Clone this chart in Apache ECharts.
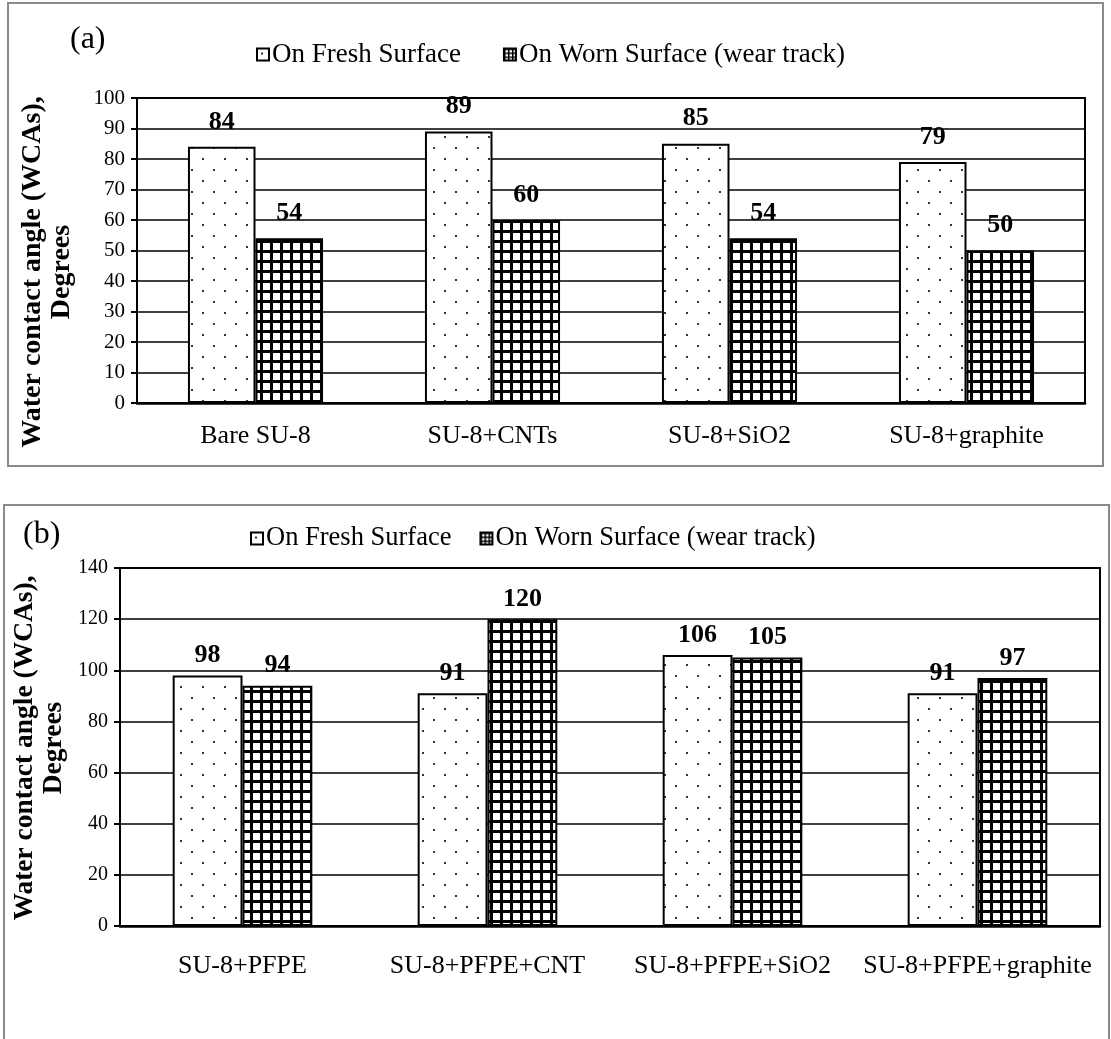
<!DOCTYPE html>
<html>
<head>
<meta charset="utf-8">
<script src="https://cdn.jsdelivr.net/npm/echarts@6/dist/echarts.min.js"></script>
<style>
html,body{margin:0;padding:0;background:#fff;}
#chart{width:1111px;height:1039px;}
</style>
</head>
<body>
<div id="chart"></div>
<script>
// ---- data ----
const seriesNames = ['On Fresh Surface', 'On Worn Surface (wear track)'];
const categoriesA = ['Bare SU-8', 'SU-8+CNTs', 'SU-8+SiO2', 'SU-8+graphite'];
const freshA = [84, 89, 85, 79];
const wornA = [54, 60, 54, 50];
const categoriesB = ['SU-8+PFPE', 'SU-8+PFPE+CNT', 'SU-8+PFPE+SiO2', 'SU-8+PFPE+graphite'];
const freshB = [98, 91, 106, 91];
const wornB = [94, 120, 105, 97];
const yTicksA = {min: 0, max: 100, interval: 10};
const yTicksB = {min: 0, max: 140, interval: 20};

// ---- patterns ----
function dotPattern() {
  const c = document.createElement('canvas');
  c.width = 22; c.height = 22;
  const g = c.getContext('2d');
  g.fillStyle = '#fff'; g.fillRect(0, 0, 22, 22);
  g.fillStyle = '#333';
  g.fillRect(4, 4, 2, 2);
  g.fillRect(15, 15, 2, 2);
  return c;
}
function gridPattern() {
  const c = document.createElement('canvas');
  c.width = 10; c.height = 10;
  const g = c.getContext('2d');
  g.fillStyle = '#fff'; g.fillRect(0, 0, 10, 10);
  g.fillStyle = '#000';
  g.fillRect(0, 0, 3, 10);
  g.fillRect(0, 0, 10, 3);
  return c;
}
function iconGridPattern() {
  const c = document.createElement('canvas');
  c.width = 4; c.height = 4;
  const g = c.getContext('2d');
  g.fillStyle = '#fff'; g.fillRect(0, 0, 4, 4);
  g.fillStyle = '#000';
  g.fillRect(0, 0, 1.5, 4);
  g.fillRect(0, 0, 4, 1.5);
  return c;
}
const freshFill = {image: dotPattern(), repeat: 'repeat'};
const wornFill = {image: gridPattern(), repeat: 'repeat'};
const wornIconFill = {image: iconGridPattern(), repeat: 'repeat'};

const FONT = '"Liberation Serif", "Times New Roman", serif';

function yAxis(gridIndex, t, fs) {
  return {
    type: 'value', gridIndex: gridIndex, min: t.min, max: t.max, interval: t.interval,
    axisLine: {show: true, lineStyle: {color: '#000', width: 2}},
    axisTick: {show: true, length: 6, lineStyle: {color: '#000', width: 2}},
    axisLabel: {color: '#000', fontFamily: FONT, fontSize: fs, margin: 12},
    splitLine: {show: true, lineStyle: {color: '#000', width: 1.6}}
  };
}
function xAxis(gridIndex, cats, margin) {
  return {
    type: 'category', gridIndex: gridIndex, data: cats,
    axisLine: {show: true, lineStyle: {color: '#000', width: 2.5}},
    axisTick: {show: false},
    axisLabel: {color: '#000', fontFamily: FONT, fontSize: 26, margin: margin, interval: 0}
  };
}
function barSeries(name, idx, data, fill, dist) {
  return {
    type: 'bar', name: name, xAxisIndex: idx, yAxisIndex: idx, data: data,
    barGap: '0%', barCategoryGap: '43%',
    itemStyle: {color: fill, borderColor: '#000', borderWidth: 2},
    label: {show: true, position: 'top', distance: dist, color: '#000',
      fontFamily: FONT, fontWeight: 'bold', fontSize: 26},
    emphasis: {disabled: true}
  };
}
function legend(left, top, gap, fs) {
  return {
    left: left, top: top, padding: 0, itemGap: gap, itemWidth: 12, itemHeight: 12,
    icon: 'rect', selectedMode: false,
    textStyle: {color: '#000', fontFamily: FONT, fontSize: fs, padding: [0, 0, 0, -2]},
    data: [
      {name: seriesNames[0], itemStyle: {color: freshFill, borderColor: '#000', borderWidth: 2}},
      {name: seriesNames[1], itemStyle: {color: wornIconFill, borderColor: '#000', borderWidth: 2}}
    ]
  };
}

const chart = echarts.init(document.getElementById('chart'), null, {renderer: 'canvas'});
chart.setOption({
  backgroundColor: '#fff',
  animation: false,
  grid: [
    {left: 137, top: 98, width: 948, height: 305, show: true, borderColor: '#000', borderWidth: 2, backgroundColor: 'transparent'},
    {left: 120, top: 568, width: 980, height: 358, show: true, borderColor: '#000', borderWidth: 2, backgroundColor: 'transparent'}
  ],
  xAxis: [xAxis(0, categoriesA, 20), xAxis(1, categoriesB, 27)],
  yAxis: [yAxis(0, yTicksA, 21), yAxis(1, yTicksB, 20)],
  legend: [legend(256, 41, 42, 27), legend(250, 525, 28, 26.5)],
  series: [
    barSeries(seriesNames[0], 0, freshA, freshFill, 12),
    barSeries(seriesNames[1], 0, wornA, wornFill, 12),
    barSeries(seriesNames[0], 1, freshB, freshFill, 7),
    barSeries(seriesNames[1], 1, wornB, wornFill, 7)
  ],
  graphic: [
    {type: 'rect', shape: {x: 8, y: 3, width: 1095, height: 463}, style: {fill: 'none', stroke: '#8a8a8a', lineWidth: 2}, silent: true, z: -1},
    {type: 'rect', shape: {x: 4, y: 505, width: 1105, height: 600}, style: {fill: 'none', stroke: '#8a8a8a', lineWidth: 2}, silent: true, z: -1},
    {type: 'text', x: 70, y: 40, style: {text: '(a)', font: '32px ' + FONT, fill: '#000', textAlign: 'left', textVerticalAlign: 'middle'}},
    {type: 'text', x: 23, y: 535, style: {text: '(b)', font: '32px ' + FONT, fill: '#000', textAlign: 'left', textVerticalAlign: 'middle'}},
    {type: 'text', x: 47, y: 272, rotation: Math.PI / 2,
      style: {text: 'Water contact angle (WCAs),\nDegrees', font: 'bold 28px ' + FONT, lineHeight: 29, fill: '#000', textAlign: 'center', textVerticalAlign: 'middle'}},
    {type: 'text', x: 39, y: 748, rotation: Math.PI / 2,
      style: {text: 'Water contact angle (WCAs),\nDegrees', font: 'bold 27.5px ' + FONT, lineHeight: 29, fill: '#000', textAlign: 'center', textVerticalAlign: 'middle'}}
  ]
});
</script>
</body>
</html>
